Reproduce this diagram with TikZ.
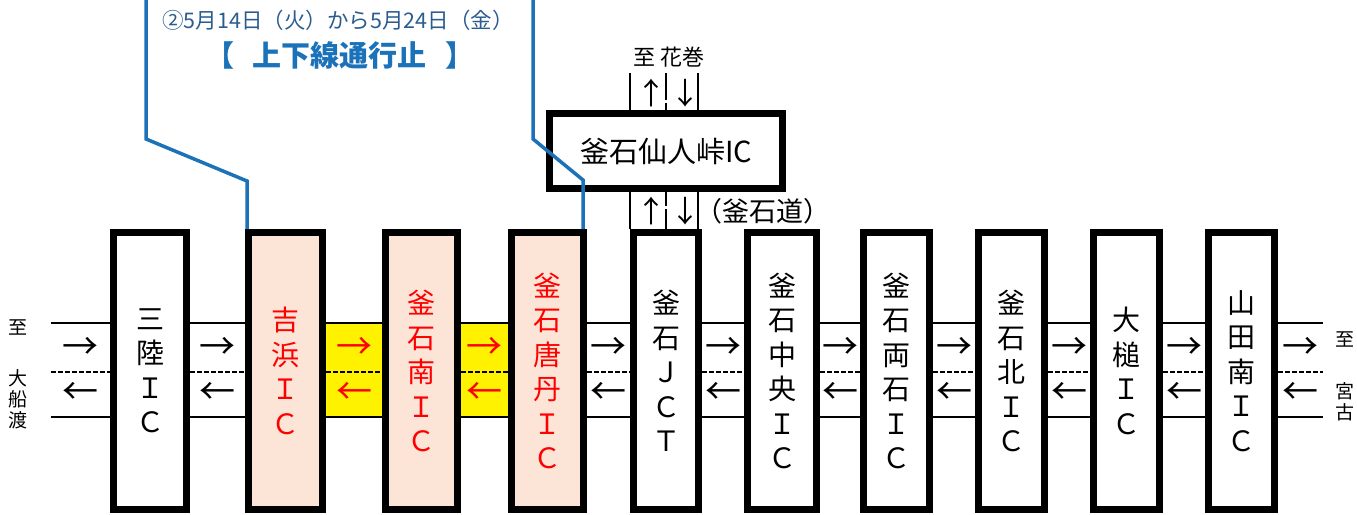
\documentclass[tikz,border=0pt]{standalone}
\usepackage{fontspec}
\setmainfont{Noto Sans CJK JP}
\usetikzlibrary{calc}

\definecolor{peach}{HTML}{FCE4D6}
\definecolor{noticeblue}{HTML}{1B72B8}
\definecolor{dateblue}{HTML}{2A5C8E}

\begin{document}
\begin{tikzpicture}[x=1pt,y=-1pt,
        ic node/.style={rectangle,draw,fill=white,line width=7pt,minimum height=277pt,inner sep=0pt,
            align=center,font=\fontsize{28}{34.5}\selectfont},
        closed node/.style={ic node,fill=peach,text=red},
        road/.style={line width=1.8pt},
        center line/.style={line width=1.8pt,dash pattern=on 5pt off 2pt},
        ramp/.style={line width=1.2pt},
        dir arrow/.style={font=\fontsize{36}{36}\selectfont,inner sep=0pt},
        ramp arrow/.style={font=\fontsize{30}{30}\selectfont,inner sep=0pt},
        side label/.style={align=center,font=\fontsize{19}{21}\selectfont,inner sep=0pt},
        notice line/.style={draw=noticeblue,line width=3.5pt}]

    \useasboundingbox (0,0) rectangle (1357,514);

    \node[ic node,minimum width=73pt] (sanriku) at (150,371) {三\\陸\\Ｉ\\Ｃ};
    \node[closed node,minimum width=74pt] (yoshihama) at (285.5,371) {吉\\浜\\Ｉ\\Ｃ};
    \node[closed node,minimum width=72pt] (minami) at (421.5,371) {釜\\石\\南\\Ｉ\\Ｃ};
    \node[closed node,minimum width=72pt] (toni) at (547.5,371) {釜\\石\\唐\\丹\\Ｉ\\Ｃ};
    \node[ic node,minimum width=65pt] (jct) at (666,371) {釜\\石\\Ｊ\\Ｃ\\Ｔ};
    \node[ic node,minimum width=69pt] (chuo) at (782,371) {釜\\石\\中\\央\\Ｉ\\Ｃ};
    \node[ic node,minimum width=66pt] (ryoishi) at (896.5,371) {釜\\石\\両\\石\\Ｉ\\Ｃ};
    \node[ic node,minimum width=66pt] (kita) at (1011.5,371) {釜\\石\\北\\Ｉ\\Ｃ};
    \node[ic node,minimum width=66pt] (otsuchi) at (1126.5,371) {大\\槌\\Ｉ\\Ｃ};
    \node[ic node,minimum width=66pt] (yamadaminami) at (1241.5,371) {山\\田\\南\\Ｉ\\Ｃ};

    \node[inner sep=0pt,outer sep=0pt] (wend) at (50,371) {};
    \node[inner sep=0pt,outer sep=0pt] (eend) at (1323,371) {};
    \node[side label] (ofunato) at (18,374) {至\\[30pt]大\\船\\渡};
    \node[side label] (miyako) at (1345,376) {至\\[31pt]宮\\古};

    \fill[yellow] (yoshihama.east |- 0,323) rectangle (minami.west |- 0,417);
    \fill[yellow] (minami.east |- 0,323) rectangle (toni.west |- 0,417);

    \foreach \a/\b/\c in {wend/sanriku/black,sanriku/yoshihama/black,yoshihama/minami/red,
            minami/toni/red,toni/jct/black,jct/chuo/black,chuo/ryoishi/black,
            ryoishi/kita/black,kita/otsuchi/black,otsuchi/yamadaminami/black,yamadaminami/eend/black}{
        \draw[road] (\a.east |- 0,323) -- (\b.west |- 0,323);
        \draw[road] (\a.east |- 0,417) -- (\b.west |- 0,417);
        \draw[center line] (\a.east |- 0,372) -- (\b.west |- 0,372);
        \path ($(\a.east)!.5!(\b.west)$) coordinate (mid);
        \node[dir arrow,text=\c] at (mid |- 0,348) {→};
        \node[dir arrow,text=\c] at (mid |- 0,393) {←};
    }

    \node[draw,fill=white,line width=7pt,minimum width=233pt,minimum height=75pt,inner sep=0pt,
        font=\fontsize{29}{30}\selectfont] (sennin) at (666,151) {釜石仙人峠IC};
    \node[font=\fontsize{22}{22}\selectfont] (hanamaki) at (669,57) {至 花巻};
    \node[font=\fontsize{27}{27}\selectfont] (kamaishido) at (763,211) {（釜石道）};

    \draw[ramp] ($(sennin.north)+(-36,-37)$) -- ($(sennin.north)+(-36,0)$);
    \draw[ramp] ($(sennin.north)+(32,-37)$) -- ($(sennin.north)+(32,0)$);
    \draw[ramp,dash pattern=on 27pt off 3pt] ($(sennin.north)+(0,-37)$) -- (sennin.north);
    \draw[ramp] ($(jct.north)+(-36,0)$) -- ($(sennin.south)+(-36,0)$);
    \draw[ramp] ($(jct.north)+(32,0)$) -- ($(sennin.south)+(32,0)$);
    \draw[ramp,dash pattern=on 20pt off 3pt] (jct.north) -- (sennin.south);
    \node[ramp arrow] at (651,93) {↑};
    \node[ramp arrow] at (685,93) {↓};
    \node[ramp arrow] at (651,211) {↑};
    \node[ramp arrow] at (685,211) {↓};

    \node[font=\fontsize{21.5}{22}\selectfont,text=dateblue] (period) at (338,20) {②5月14日（火）から5月24日（金）};
    \node[font=\fontsize{29}{29}\selectfont\bfseries,text=noticeblue] (closure) at (340,55) {【\hspace{19pt}上下線通行止\hspace{19pt}】};

    \coordinate (lefttop) at (146,0);
    \coordinate (righttop) at (533,0);
    \draw[notice line] (lefttop) -- ++(0,139) -- ($(yoshihama.north west)+(2,-48)$) -- ($(yoshihama.north west)+(2,0)$);
    \draw[notice line] (righttop) -- ++(0,139) -- ($(toni.north east)+(-4,-49)$) -- ($(toni.north east)+(-4,0)$);
\end{tikzpicture}
\end{document}
